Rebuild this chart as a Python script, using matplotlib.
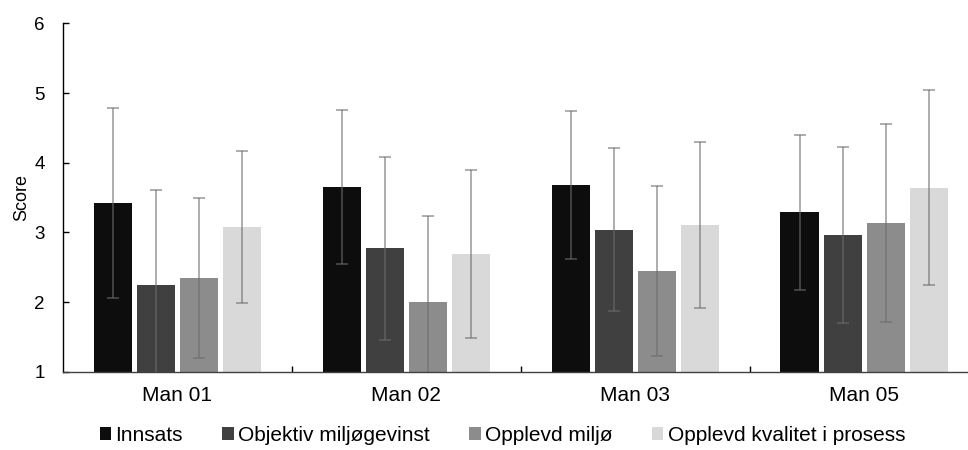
import numpy as np
import matplotlib.pyplot as plt
from matplotlib.patches import Patch

plt.rcParams['font.family'] = ['Liberation Sans', 'DejaVu Sans']

# Data
groups = ["Man 01", "Man 02", "Man 03", "Man 05"]
series = ["Innsats", "Objektiv miljøgevinst", "Opplevd miljø", "Opplevd kvalitet i prosess"]
innsats = [3.42, 3.65, 3.68, 3.29]
objektiv = [2.24, 2.77, 3.04, 2.96]
opplevd_miljo = [2.34, 2.00, 2.44, 3.14]
opplevd_kvalitet = [3.08, 2.69, 3.11, 3.64]
err_innsats = [1.36, 1.10, 1.06, 1.11]
err_objektiv = [1.37, 1.31, 1.17, 1.26]
err_miljo = [1.15, 1.23, 1.22, 1.42]
err_kvalitet = [1.09, 1.21, 1.19, 1.40]

values = [innsats, objektiv, opplevd_miljo, opplevd_kvalitet]
errors = [err_innsats, err_objektiv, err_miljo, err_kvalitet]
colors = ["#0d0d0d", "#404040", "#8c8c8c", "#d9d9d9"]

fig = plt.figure(figsize=(9.68, 4.5), dpi=100)
ax = fig.add_axes([0.0651, 0.174, 0.946, 0.774])

x = np.arange(len(groups))
step = 0.188
width = 0.168
for i, (vals, errs, col) in enumerate(zip(values, errors, colors)):
    pos = x + (i - 1.5) * step
    ax.bar(pos, np.array(vals) - 1, width, bottom=1, color=col, zorder=2)
    ax.errorbar(pos, vals, yerr=errs, fmt='none', ecolor="#6c6c6c", alpha=0.65,
                elinewidth=1.2, capsize=4, capthick=1.2, zorder=3)

ax.set_xlim(-0.5, 3.5)
ax.set_ylim(1, 6)
ax.set_yticks([1, 2, 3, 4, 5, 6])
ax.set_xticks(x)
ax.set_xticklabels(groups)
ax.set_xticks([0.5, 1.5, 2.5], minor=True)
ax.tick_params(axis='x', which='major', length=0, pad=10, labelsize=15)
ax.tick_params(axis='x', which='minor', direction='in', length=4.5, width=1)
ax.tick_params(axis='y', direction='in', length=4.5, width=1, pad=13, labelsize=13.5)
ax.set_ylabel("Score", fontsize=13, labelpad=3)

for s in ['top', 'right']:
    ax.spines[s].set_visible(False)
ax.spines['left'].set_linewidth(1)
ax.spines['bottom'].set_linewidth(1)
ax.spines['bottom'].set_color("#404040")

handles = [Patch(facecolor=c, edgecolor='none') for c in colors]
fig.legend(handles, series, loc='center', bbox_to_anchor=(0.519, 0.032), ncol=4,
           frameon=False, fontsize=15, handlelength=0.55, handleheight=0.55,
           handletextpad=0.2, columnspacing=1.9, borderpad=0, borderaxespad=0)

fig.savefig("out.png", dpi=100)
